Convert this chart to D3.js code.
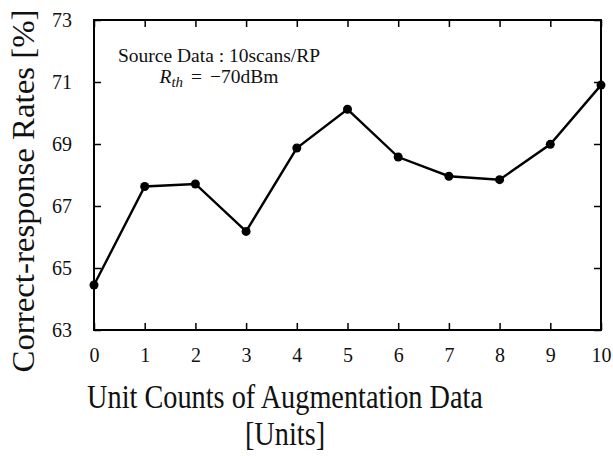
<!DOCTYPE html>
<html><head><meta charset="utf-8">
<script src="https://cdn.jsdelivr.net/npm/d3@7"></script>
<style>html,body{margin:0;padding:0;background:#fff;}svg{display:block;}</style>
</head><body>
<script>
const units = [0,1,2,3,4,5,6,7,8,9,10];
const rates = [64.45,67.63,67.71,66.18,68.87,70.12,68.58,67.96,67.85,68.99,70.9];
const yTicks = [63,65,67,69,71,73];
const xTicks = [0,1,2,3,4,5,6,7,8,9,10];
const xTitle = ["Unit Counts of Augmentation Data","[Units]"];
const yTitle = "Correct-response Rates [%]";
const note1 = "Source Data : 10scans/RP";

const W=613,H=456;
const m={l:94,r:12,t:20,b:126};
const svg=d3.select("body").append("svg").attr("width",W).attr("height",H);
const font="'Liberation Serif','Times New Roman',serif";
const ink="#111";
const x=d3.scaleLinear().domain([0,10]).range([m.l,W-m.r]);
const y=d3.scaleLinear().domain([63,73]).range([H-m.b,m.t]);

const g=svg.append("g");
g.append("rect").attr("x",x(0)).attr("y",y(73)).attr("width",x(10)-x(0)).attr("height",y(63)-y(73))
 .attr("fill","none").attr("stroke","#000").attr("stroke-width",2);

const xb=g.append("g").attr("transform",`translate(0,${y(63)})`)
 .call(d3.axisBottom(x).tickValues(xTicks).tickSizeInner(-7).tickSizeOuter(0).tickPadding(18).tickFormat(d3.format("d")));
const xt=g.append("g").attr("transform",`translate(0,${y(73)})`)
 .call(d3.axisTop(x).tickValues(xTicks).tickSizeInner(-7).tickSizeOuter(0).tickFormat(""));
const yl=g.append("g").attr("transform",`translate(${x(0)},0)`)
 .call(d3.axisLeft(y).tickValues(yTicks).tickSizeInner(-7).tickSizeOuter(0).tickPadding(22).tickFormat(d3.format("d")));
const yr=g.append("g").attr("transform",`translate(${x(10)},0)`)
 .call(d3.axisRight(y).tickValues(yTicks).tickSizeInner(-7).tickSizeOuter(0).tickFormat(""));
[xb,xt,yl,yr].forEach(a=>{
  a.select(".domain").remove();
  a.selectAll(".tick line").attr("stroke","#000").attr("stroke-width",1.5);
  a.selectAll("text").attr("font-family",font).attr("font-size",20).attr("fill",ink);
});

const pts=units.map((u,i)=>[u,rates[i]]);
g.append("path").datum(pts)
 .attr("fill","none").attr("stroke","#000").attr("stroke-width",2.4)
 .attr("d",d3.line().x(d=>x(d[0])).y(d=>y(d[1])));
g.selectAll("circle.pt").data(pts).enter().append("circle")
 .attr("cx",d=>x(d[0])).attr("cy",d=>y(d[1])).attr("r",4.5).attr("fill","#000");

// annotation
svg.append("text").attr("x",219).attr("y",62).attr("text-anchor","middle")
 .attr("font-family",font).attr("font-size",19.5).attr("fill",ink).text(note1);
const t2=svg.append("text").attr("x",219).attr("y",83).attr("text-anchor","middle")
 .attr("font-family",font).attr("font-size",19.5).attr("fill",ink);
t2.append("tspan").attr("font-style","italic").text("R");
t2.append("tspan").attr("font-style","italic").attr("font-size",15).attr("dy",4).text("th");
t2.append("tspan").attr("dy",-4).attr("dx",8).text("=");
t2.append("tspan").attr("dx",8).text("\u221270dBm");

// titles
svg.append("text").attr("transform",`translate(34,191) rotate(-90) scale(1.06,1)`).attr("text-anchor","middle")
 .attr("font-family",font).attr("font-size",31).attr("fill",ink).text(yTitle);
xTitle.forEach((t,i)=>{
  svg.append("text").attr("transform",`translate(285,${408+i*37}) scale(0.82,1)`).attr("text-anchor","middle")
   .attr("font-family",font).attr("font-size",34.5).attr("fill",ink).text(t);
});
</script>
</body></html>
